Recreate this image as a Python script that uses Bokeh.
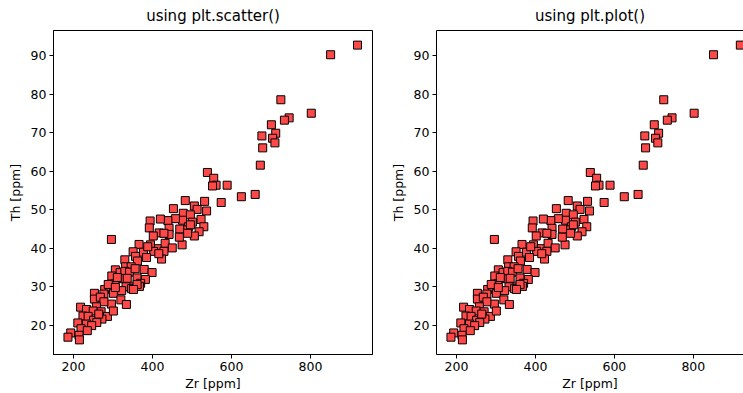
from bokeh.plotting import figure
from bokeh.layouts import row
from bokeh.models import Range1d, FixedTicker, LinearAxis
from bokeh.embed import file_html
from bokeh.resources import INLINE

# Zr / Th concentrations (ppm)
zr = [919, 851, 802, 725, 746, 734, 701, 712, 677, 704, 710, 679, 673,
      539, 555, 561, 552, 589, 660, 625, 574, 483, 532, 537, 506, 513,
      453, 478, 496, 523, 501, 476, 458, 439, 420, 394, 530, 518, 506,
      475, 491, 479, 392, 417, 442, 469, 496, 296, 442, 468, 489, 402,
      366, 395, 415, 432, 450, 351, 377, 403, 429, 423, 357, 330, 362,
      385, 332, 346, 306, 318, 330, 342, 356, 379, 399, 297, 322, 336,
      361, 382, 370, 344, 333, 305, 279, 292, 288, 253, 277, 301, 322,
      347, 367, 253, 268, 296, 320, 334, 277, 258, 218, 233, 250, 270,
      286, 301, 224, 237, 251, 272, 264, 259, 211, 233, 246, 219, 235,
      193, 214, 186, 215, 429, 416, 388, 361, 311, 306, 352]
th = [92.8, 90.3, 75.1, 78.6, 73.9, 73.3, 72.1, 69.9, 69.2, 68.6, 67.4, 66.1, 61.6,
      59.7, 58.2, 56.4, 56.2, 56.4, 54.0, 53.4, 51.9, 52.4, 52.2, 49.7, 51.0, 50.1,
      50.3, 49.1, 48.7, 47.5, 46.8, 47.3, 47.7, 47.2, 47.6, 47.1, 45.6, 44.3, 43.2,
      40.9, 45.6, 44.8, 45.3, 44.0, 45.2, 45.0, 46.1, 42.3, 43.6, 42.9, 43.9, 43.2,
      41.0, 40.9, 39.9, 41.3, 40.1, 39.1, 39.0, 39.2, 39.2, 37.2, 37.9, 37.0, 36.7,
      37.6, 35.2, 35.2, 34.4, 33.7, 34.0, 33.8, 34.7, 34.5, 33.7, 32.8, 32.1, 32.2,
      32.3, 31.9, 30.9, 30.0, 30.0, 30.7, 29.3, 29.9, 30.6, 28.3, 28.1, 28.3, 29.0,
      29.5, 30.1, 26.8, 27.3, 25.5, 26.6, 25.4, 26.1, 24.8, 24.7, 24.1, 23.7, 23.5,
      22.3, 23.7, 22.4, 22.3, 21.3, 21.6, 22.9, 20.7, 20.6, 20.3, 19.9, 19.1, 18.6,
      18.0, 17.4, 16.9, 16.2, 43.9, 38.6, 40.4, 30.6, 32.4, 29.8, 29.3]

x_ticks = [200, 400, 600, 800]
y_ticks = [20, 30, 40, 50, 60, 70, 80, 90]
titles = ["using plt.scatter()", "using plt.plot()"]
x_label = "Zr [ppm]"
y_label = "Th [ppm]"

FONT = "DejaVu Sans"
FILL = "#ff4848"
LABEL_SIZE = "12.5px"


def style_axis(ax, ticks, label, label_standoff):
    ax.ticker = FixedTicker(ticks=ticks)
    ax.minor_tick_line_color = None
    ax.major_tick_in = 0
    ax.major_tick_out = 4
    ax.major_tick_line_color = "black"
    ax.axis_line_color = "black"
    ax.major_label_text_font = FONT
    ax.major_label_text_font_size = LABEL_SIZE
    ax.major_label_text_color = "black"
    ax.major_label_standoff = 3
    ax.axis_label = label
    ax.axis_label_text_font = FONT
    ax.axis_label_text_font_size = LABEL_SIZE
    ax.axis_label_text_font_style = "normal"
    ax.axis_label_text_color = "black"
    ax.axis_label_standoff = label_standoff


def make_panel(title, width, x_end, border_right, full_box):
    p = figure(width=width, height=393,
               x_range=Range1d(149.4, x_end), y_range=Range1d(12.4, 96.6),
               output_backend="svg", toolbar_location=None,
               min_border_left=53, min_border_right=border_right,
               min_border_top=29, min_border_bottom=38, title=title)
    p.title.align = "center"
    p.title.vertical_align = "middle"
    p.title.text_font = FONT
    p.title.text_font_size = "15px"
    p.title.text_font_style = "normal"
    p.title.text_color = "black"
    p.title.standoff = 10
    p.xgrid.visible = False
    p.ygrid.visible = False
    p.background_fill_color = "white"
    p.border_fill_color = "white"

    x_axis = p.below[0]
    y_axis = p.left[0]
    style_axis(x_axis, x_ticks, x_label, 2)
    style_axis(y_axis, y_ticks, y_label, 5)

    if full_box:
        p.outline_line_color = "black"
        p.outline_line_alpha = 1.0
        p.outline_line_width = 1
    else:
        # the right edge of this panel runs off the page, so only the
        # top spine is drawn, as a bare axis line next to the frame
        p.outline_line_color = None
        top = LinearAxis(ticker=FixedTicker(ticks=[]))
        top.major_label_text_font_size = "0px"
        top.major_label_standoff = 0
        top.major_tick_out = 0
        top.major_tick_in = 0
        top.major_tick_line_color = None
        top.minor_tick_line_color = None
        top.axis_line_color = "black"
        p.above = [top] + list(p.above)

    p.scatter(zr, th, marker="square", size=8, fill_color=FILL,
              line_color="black", line_width=1)
    return p


p1 = make_panel(titles[0], 383, 957.0, 11, True)
p2 = make_panel(titles[1], 360, 927.0, 0, False)

layout = row(p1, p2)
open("out.html", "w").write(file_html(layout, INLINE))
